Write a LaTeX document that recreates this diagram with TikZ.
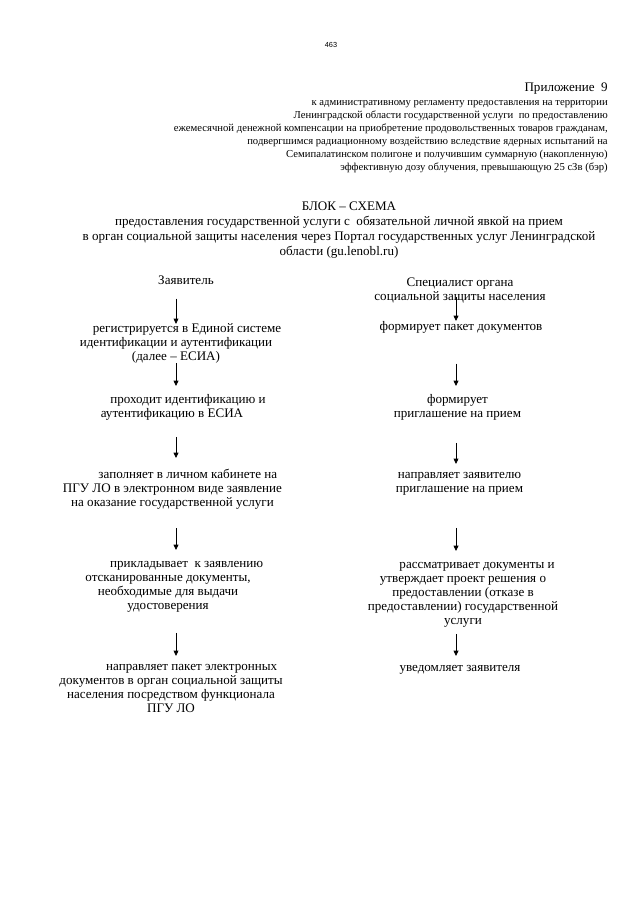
\documentclass[tikz,border=0pt]{standalone}
\usepackage{fontspec}
\setmainfont{Liberation Serif}
\newfontfamily\pagefont{Liberation Sans}
\usepackage{tikz}
\usetikzlibrary{arrows.meta}
\tikzstyle{pagenote} = [font=\pagefont\fontsize{5.5}{6.6}\selectfont, inner sep=0pt]
\tikzstyle{annexhead} = [font=\fontsize{9.8}{11}\selectfont, inner sep=0pt, anchor=base east]
\tikzstyle{annexnote} = [font=\fontsize{8}{9.75}\selectfont, align=right, inner sep=0pt, anchor=north east, execute at begin node=\strut]
\tikzstyle{schemetitle} = [font=\fontsize{9.8}{11.25}\selectfont, align=center, inner sep=0pt, anchor=north, execute at begin node=\strut]
\tikzstyle{action} = [font=\fontsize{9.8}{10.5}\selectfont, align=center, inner sep=0pt, anchor=north, execute at begin node=\strut, execute at end node=\strut]
\tikzstyle{arrow} = [-{Triangle[length=4pt, width=3.6pt]}, line width=0.6pt, draw=black]

\begin{document}
\begin{tikzpicture}[x=0.75pt, y=-0.75pt]
    \useasboundingbox (0,0) rectangle (640,905);
    \fill[white] (0,0) rectangle (640,905);

    % Page header
    \node[pagenote] (pagenum) at (331,45) {463};
    \node[annexhead] (annex) at (608,91.5) {Приложение\ \ 9};
    \node[annexnote] (annexref) at (608,100.4) {к административному регламенту предоставления на территории\\Ленинградской области государственной услуги\ \ по предоставлению\\ежемесячной денежной компенсации на приобретение продовольственных товаров гражданам,\\подвергшимся радиационному воздействию вследствие ядерных испытаний на\\Семипалатинском полигоне и получившим суммарную (накопленную)\\эффективную дозу облучения, превышающую 25 сЗв (бэр)};

    % Title
    \node[schemetitle] (title) at (339,201.8) {\hspace*{15pt}БЛОК – СХЕМА\\предоставления государственной услуги с\ \ обязательной личной явкой на прием\\в орган социальной защиты населения через Портал государственных услуг Ленинградской\\области (gu.lenobl.ru)};

    % Columns
    \coordinate (colL) at (176,0);
    \coordinate (colR) at (456,0);

    % Applicant
    \node[action] (applicant) at (186,274.7) {Заявитель};
    \node[action] (register) at (176,323.7) {\hspace*{16.5pt}регистрируется в Единой системе\\идентификации и аутентификации\\(далее – ЕСИА)};
    \node[action] (identify) at (172,393.7) {\hspace*{24pt}проходит идентификацию и\\аутентификацию в ЕСИА};
    \node[action] (fillin) at (172.5,468.7) {\hspace*{23pt}заполняет в личном кабинете на\\ПГУ ЛО в электронном виде заявление\\на оказание государственной услуги};
    \node[action] (attach) at (168,560.7) {\hspace*{28pt}прикладывает\ \ к заявлению\\отсканированные документы,\\необходимые для выдачи\\удостоверения};
    \node[action] (sendpack) at (171,663.7) {\hspace*{31pt}направляет пакет электронных\\документов в орган социальной защиты\\населения посредством функционала\\ПГУ ЛО};

    % Specialist
    \node[action] (specialist) at (460,277.2) {Специалист органа\\социальной защиты населения};
    \node[action] (formpack) at (461,320.7) {формирует пакет документов};
    \node[action] (forminvite) at (457.5,393.7) {формирует\\приглашение на прием};
    \node[action] (sendinvite) at (459.5,471.7) {направляет заявителю\\приглашение на прием};
    \node[action] (review) at (463,561.7) {\hspace*{21pt}рассматривает документы и\\утверждает проект решения о\\предоставлении (отказе в\\предоставлении) государственной\\услуги};
    \node[action] (notify) at (460,661.7) {уведомляет заявителя};

    % Arrows
    \draw[arrow, shorten <=7pt, shorten >=-0.2pt] (applicant.south -| colL) -- (register.north -| colL);
    \draw[arrow, shorten <=-1.5pt, shorten >=5.75pt] (register.south -| colL) -- (identify.north -| colL);
    \draw[arrow, shorten <=11.5pt, shorten >=8pt] (identify.south -| colL) -- (fillin.north -| colL);
    \draw[arrow, shorten <=13pt, shorten >=8pt] (fillin.south -| colL) -- (attach.north -| colL);
    \draw[arrow, shorten <=14.5pt, shorten >=5.8pt] (attach.south -| colL) -- (sendpack.north -| colL);

    \draw[arrow, shorten <=-5.4pt, shorten >=-0.25pt] (specialist.south -| colR) -- (formpack.north -| colR);
    \draw[arrow, shorten <=21.25pt, shorten >=5.75pt] (formpack.south -| colR) -- (forminvite.north -| colR);
    \draw[arrow, shorten <=16pt, shorten >=5.8pt] (forminvite.south -| colR) -- (sendinvite.north -| colR);
    \draw[arrow, shorten <=23.5pt, shorten >=8pt] (sendinvite.south -| colR) -- (review.north -| colR);
    \draw[arrow, shorten <=3.95pt, shorten >=4.25pt] (review.south -| colR) -- (notify.north -| colR);
\end{tikzpicture}
\end{document}
